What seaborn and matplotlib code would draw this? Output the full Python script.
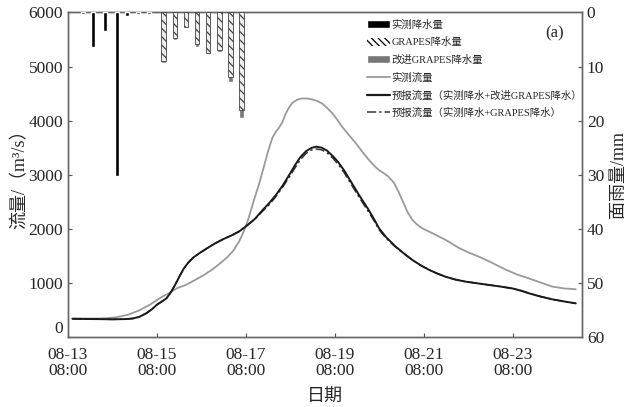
import numpy as np
import pandas as pd
import matplotlib
matplotlib.use('Agg')
import matplotlib.pyplot as plt
from matplotlib.patches import Patch
from matplotlib.lines import Line2D
import seaborn as sns

# time axis: days after 08-13 08:00
tick_pos = [0, 2, 4, 6, 8, 10]
tick_labels = ['08-13\n08:00', '08-15\n08:00', '08-17\n08:00',
               '08-19\n08:00', '08-21\n08:00', '08-23\n08:00']

# rainfall bars (mm)
rain_obs_t = [0.33, 0.57, 0.83, 1.09, 1.32, 1.57, 1.82]
rain_obs = [0.3, 6.3, 3.4, 30.1, 0.6, 0.3, 0.3]
rain_t = [2.15, 2.40, 2.65, 2.90, 3.15, 3.40, 3.65, 3.90]
rain_grapes = [9.0, 4.7, 2.6, 5.9, 7.4, 7.0, 12.0, 18.0]
rain_improved = [9.3, 5.0, 2.9, 6.3, 7.7, 7.3, 12.8, 19.5]

# observed discharge (m3/s)
obs_t = [0.10, 0.60, 0.85, 1.10, 1.35, 1.60, 1.85, 2.05, 2.27, 2.45, 2.65,
         2.85, 3.05, 3.25, 3.45, 3.60, 3.72, 3.85, 3.95, 4.05, 4.18, 4.30,
         4.40, 4.50, 4.59, 4.67, 4.74, 4.82, 4.89, 4.97, 5.04, 5.15, 5.27,
         5.38, 5.49, 5.60, 5.71, 5.82, 5.94, 6.05, 6.16, 6.30, 6.47, 6.62,
         6.76, 6.88, 6.99, 7.10, 7.20, 7.33, 7.42, 7.51, 7.62, 7.74, 7.85,
         7.96, 8.20, 8.49, 8.79, 9.00, 9.24, 9.50, 9.84, 10.10, 10.36, 10.60,
         10.88, 11.15, 11.41]
obs_q = [350, 350, 355, 375, 420, 500, 610, 720, 820, 910, 970,
         1060, 1150, 1260, 1390, 1500, 1610, 1780, 1960, 2180, 2540, 2850,
         3150, 3450, 3680, 3800, 3870, 3980, 4130, 4250, 4330, 4390, 4415,
         4410, 4395, 4365, 4320, 4240, 4140, 4020, 3890, 3750, 3585, 3420,
         3280, 3170, 3090, 3030, 2970, 2850, 2700, 2540, 2330, 2170, 2080,
         2015, 1920, 1800, 1650, 1570, 1490, 1390, 1250, 1160, 1090, 1020,
         940, 905, 890]

# forecast discharge
fc_t = [0.10, 0.60, 1.00, 1.30, 1.45, 1.60, 1.76, 1.90, 1.99, 2.10, 2.21,
        2.30, 2.40, 2.50, 2.60, 2.70, 2.82, 2.96, 3.15, 3.31, 3.50, 3.69,
        3.85, 3.99, 4.20, 4.37, 4.52, 4.67, 4.82, 4.97, 5.10, 5.22, 5.35,
        5.47, 5.58, 5.70, 5.82, 5.95, 6.07, 6.20, 6.37, 6.54, 6.65, 6.76,
        6.88, 6.99, 7.15, 7.36, 7.55, 7.74, 7.93, 8.11, 8.30, 8.49, 8.70,
        8.94, 9.20, 9.46, 9.72, 9.99, 10.20, 10.36, 10.60, 10.88, 11.15, 11.41]
fc_improved = [345, 340, 335, 340, 350, 380, 447, 530, 600, 660, 720,
               820, 960, 1120, 1270, 1380, 1480, 1560, 1660, 1740, 1820, 1890,
               1960, 2046, 2190, 2350, 2480, 2630, 2800, 3000, 3180, 3330, 3440,
               3500, 3522, 3505, 3450, 3350, 3240, 3090, 2860, 2630, 2490, 2350,
               2180, 2015, 1850, 1680, 1550, 1430, 1330, 1250, 1180, 1120, 1070,
               1030, 1000, 970, 940, 905, 860, 815, 760, 705, 665, 630]
fc_grapes = [345, 340, 335, 340, 350, 380, 447, 530, 600, 660, 720,
             820, 960, 1120, 1270, 1380, 1480, 1560, 1660, 1740, 1820, 1890,
             1960, 2046, 2185, 2330, 2450, 2600, 2770, 2960, 3130, 3280, 3400,
             3460, 3480, 3465, 3410, 3310, 3200, 3050, 2820, 2590, 2450, 2310,
             2150, 1990, 1830, 1670, 1545, 1430, 1330, 1250, 1180, 1120, 1070,
             1030, 1000, 970, 940, 905, 860, 815, 760, 705, 665, 630]

labels = ['实测降水量', 'GRAPES降水量', '改进GRAPES降水量', '实测流量',
          '预报流量（实测降水+改进GRAPES降水）', '预报流量（实测降水+GRAPES降水）']

sns.set_style('ticks')
plt.rcParams['font.family'] = ['Liberation Serif', 'Noto Sans CJK SC']
plt.rcParams['hatch.linewidth'] = 0.9

fig = plt.figure(figsize=(6.32, 4.07), dpi=100)
ax = fig.add_axes([0.1076, 0.1708, 0.8133, 0.7985])

obs_df = pd.DataFrame({'t': obs_t, 'q': obs_q})
fc_df = pd.DataFrame({'t': fc_t, 'imp': fc_improved, 'gra': fc_grapes})

sns.lineplot(data=obs_df, x='t', y='q', ax=ax, color='#9a9a9a', linewidth=1.3)
sns.lineplot(data=fc_df, x='t', y='gra', ax=ax, color='#333333', linewidth=1.1,
             linestyle=(0, (6, 2, 1.5, 2)))
sns.lineplot(data=fc_df, x='t', y='imp', ax=ax, color='#1a1a1a', linewidth=1.4)

ax.set_xlim(0, 11.55)
ax.set_ylim(0, 6000)
ax.set_yticks(range(0, 6001, 1000))
ax.set_xticks(tick_pos)
ax.set_xticklabels(tick_labels, linespacing=1.0)
ax.set_xlabel('日期', fontsize=13, labelpad=7)
ax.set_ylabel('流量/（m³/s）', fontsize=13, labelpad=0)

ax2 = ax.twinx()
ax2.bar(rain_t, rain_improved, width=0.1, color='#777777', zorder=2)
ax2.bar(rain_t, rain_grapes, width=0.1, facecolor='#eeeeee', edgecolor='#444444',
        hatch='\\\\\\\\', linewidth=0.6, zorder=3)
ax2.bar(rain_obs_t, rain_obs, width=0.09, color='black', zorder=3)
ax2.set_ylim(60, 0)
ax2.set_yticks(range(0, 61, 10))
ax2.set_ylabel('面雨量/mm', fontsize=13, labelpad=4)

for a in (ax, ax2):
    a.tick_params(direction='in', length=3, labelsize=12.5, color='#555555',
                  width=0.8)
    for s in a.spines.values():
        s.set_color('#666666')
        s.set_linewidth(1.0)
ax.tick_params(axis='x', pad=7)
ylabs = ax.get_yticklabels()
for lab in ylabs:
    lab.set_verticalalignment('center_baseline')
ylabs[0].set_verticalalignment('bottom')

handles = [Patch(facecolor='black'),
           Patch(facecolor='white', edgecolor='black', hatch='\\\\\\\\\\', linewidth=0),
           Patch(facecolor='#777777'),
           Line2D([], [], color='#9a9a9a', linewidth=1.3),
           Line2D([], [], color='#1a1a1a', linewidth=1.6),
           Line2D([], [], color='#333333', linewidth=1.1, linestyle=(0, (6, 2, 1.5, 2)))]
ax2.legend(handles, labels, loc='upper left', bbox_to_anchor=(0.568, 1.0),
           frameon=False, fontsize=7.5, handlelength=2.2, handleheight=0.8,
           labelspacing=0.72, handletextpad=0.15, borderaxespad=0.3)
ax2.text(0.947, 0.937, '(a)', transform=ax2.transAxes, fontsize=12,
         ha='center', va='center')

fig.savefig('out.png', dpi=100)
